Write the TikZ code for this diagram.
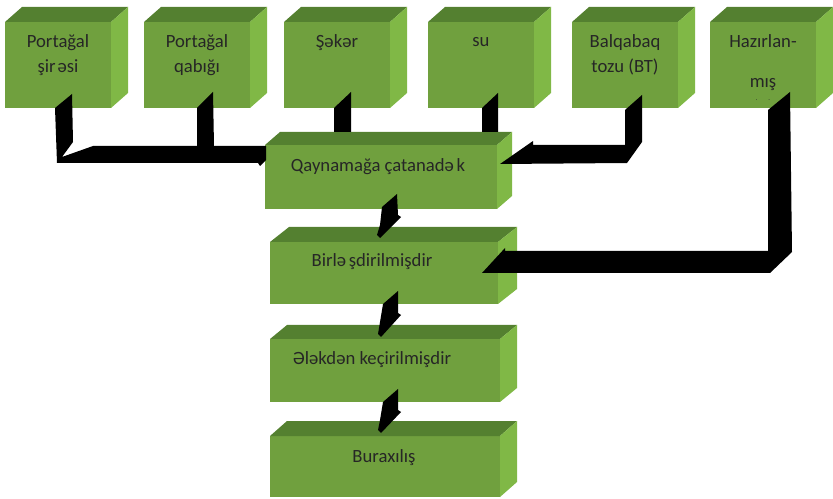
\documentclass[tikz,border=0pt]{standalone}
\usepackage{fontspec}
\setmainfont{Carlito}
\definecolor{faceF}{RGB}{112,160,62}
\definecolor{faceT}{RGB}{84,128,48}
\definecolor{faceS}{RGB}{128,184,70}

% a green block: front face node plus its top and right faces
% #1 name, #2 x, #3 y (top left of front), #4 width, #5 height, #6 depth dx, #7 depth dy
\newcommand\greenbox[7]{%
  \node[frontface, minimum width=#4*0.75pt, minimum height=#5*0.75pt] (#1) at (#2,#3) {};
  \fill[topface] (#1.north west) -- ++(#6,-#7) -- ++(#4,0) -- (#1.north east) -- cycle;
  \fill[sideface] (#1.north east) -- ++(#6,-#7) -- ++(0,#5) -- (#1.south east) -- cycle;
}
\newcommand\stacked[2]{\begin{tabular}[t]{@{}c@{}}#1\\#2\end{tabular}}

\tikzset{
  frontface/.style={fill=faceF, inner sep=0pt, outer sep=0pt, anchor=north west},
  topface/.style={fill=faceT},
  sideface/.style={fill=faceS},
  boxtext/.style={font=\fontsize{14}{18.75}\selectfont, inner sep=0pt, anchor=base, text=black!85},
  fatarrow/.style={fill=black}
}

\begin{document}
\begin{tikzpicture}[x=0.75pt, y=-0.75pt]
\useasboundingbox (0,0) rectangle (833,499);

% ingredient blocks
\greenbox{s1}{5}{22}{106}{86}{17}{15}
\greenbox{s2}{144}{22}{106}{86}{17}{15}
\greenbox{s3}{284}{22}{106}{86}{17}{15}
\greenbox{s4}{428}{22}{106}{86}{17}{15}
\greenbox{s5}{572}{22}{106}{86}{17}{15}
\greenbox{s6}{710}{22}{106}{86}{17}{15}

% process blocks
\greenbox{p1}{265}{145}{232}{64}{15}{13}
\greenbox{p2}{270}{242}{228}{62}{19}{15}
\greenbox{p3}{270}{339}{230}{63}{17}{14}
\greenbox{p4}{270}{436}{230}{61}{17}{15}

% texts
\node[boxtext] (t1) at (58,48) {\stacked{Portağal}{şir\kern1.5ptəsi}};
\node[boxtext] (t2) at (197,48) {\stacked{Portağal}{qabığı}};
\node[boxtext] (t3) at (337,48) {Şəkər};
\node[boxtext] (t4) at (481,47) {su};
\node[boxtext] (t5) at (625,48) {\stacked{Balqabaq}{tozu (BT)}};
\node[boxtext] (t6) at (763,48) {\begin{tabular}[t]{@{}c@{}}Hazırlan-\\[11pt]mış\\[-9pt]{\fontsize{5}{6}\selectfont .\hspace{8pt}.\hspace{10pt}}\end{tabular}};

\node[boxtext] (q1) at (378,172) {Qaynamağa çatanadə\kern2pt k};
\node[boxtext] (q2) at (372,267) {Birlə\kern2pt şdirilmişdir};
\node[boxtext] (q3) at (372,365) {Ələkdən keçirilmişdir};
\node[boxtext] (q4) at (384,462) {Buraxılış};

% block arrows into the boiling step
\fill[fatarrow] (55,108) -- (72,94) -- (73,142) -- (62,157) -- (93,146) -- (197,146)
  -- (197,108) -- (213,92) -- (214,146) -- (266,146) -- (266,160) -- (260,166)
  -- (258,163) -- (57,163) -- cycle;
\fill[fatarrow] (334,108) -- (351,92) -- (351,132) -- (334,132) -- cycle;
\fill[fatarrow] (482,108) -- (498,93) -- (498,132) -- (482,132) -- cycle;
\fill[fatarrow] (625,110) -- (642,95) -- (642,142) -- (627,163) -- (500,164)
  -- (533,141) -- (533,145) -- (625,145) -- cycle;

% block arrow from the prepared part into the joining step
\fill[fatarrow] (768,110) -- (790,92) -- (792,252) -- (770,273) -- (482,273)
  -- (505,248) -- (505,251) -- (768,251) -- cycle;

% arrows down the process chain
\fill[fatarrow] (382,207) -- (397,194) -- (398,215) -- (401,217) -- (380,238)
  -- (377,235) -- (380,225) -- cycle;
\fill[fatarrow] (383,304) -- (398,291) -- (398,313) -- (401,315) -- (381,337)
  -- (378,334) -- (380,322) -- cycle;
\fill[fatarrow] (383,402) -- (398,389) -- (398,410) -- (401,412) -- (381,433)
  -- (378,430) -- (380,420) -- cycle;
\end{tikzpicture}
\end{document}
